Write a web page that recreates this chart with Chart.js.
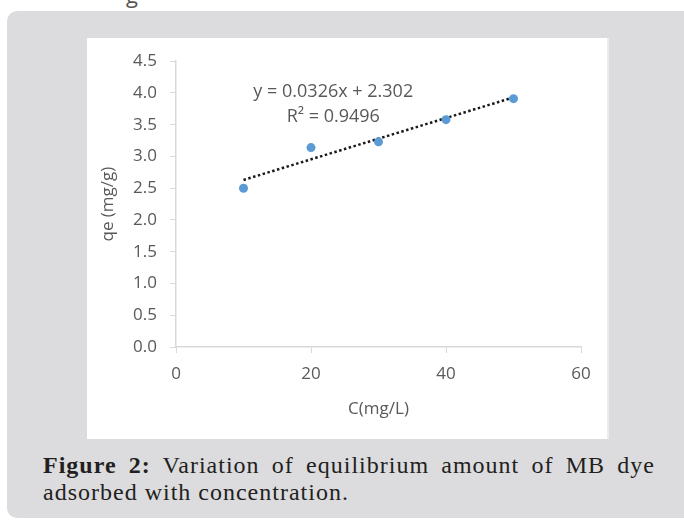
<!DOCTYPE html>
<html>
<head>
<meta charset="utf-8">
<script src="https://cdn.jsdelivr.net/npm/chart.js@4.4.1/dist/chart.umd.min.js"></script>
<style>
  body { margin: 0; background: #fff; width: 684px; height: 521px; overflow: hidden; position: relative; }
  .topline { position: absolute; left: 126px; top: -21px; font: 22px "Open Sans", sans-serif; color: #555; }
  .box { position: absolute; left: 7px; top: 11px; width: 690px; height: 507px; background: #dcdcde; border-radius: 10px; }
  .chart-wrap { position: absolute; left: 87px; top: 38px; width: 520px; height: 401px; background: #fff; border-right: 2px solid #ececec; }
  .caption { position: absolute; left: 43px; top: 452px; width: 612px; font: 24px "Liberation Serif", serif; letter-spacing: 1px; color: #231f20; line-height: 27px; }
  .caption .l1 { text-align: justify; text-align-last: justify; }
</style>
</head>
<body>
<div class="topline">g</div>
<div class="box"></div>
<div class="chart-wrap"><canvas id="chart" width="520" height="401"></canvas></div>
<div class="caption">
  <div class="l1"><b>Figure 2:</b> Variation of equilibrium amount of MB dye</div>
  <div>adsorbed with concentration.</div>
</div>
<script>
const concentration = [10, 20, 30, 40, 50];
const qe = [2.5, 3.14, 3.23, 3.58, 3.91];
const trendX = [10, 50];
const trendY = [2.63, 3.93];
const equationText = 'y = 0.0326x + 2.302';
const r2Text = 'R\u00B2 = 0.9496';

const grey = '#595959';
const axisLine = '#d9d9d9';

// trendline equation label
const equationLabel = {
  id: 'equationLabel',
  afterDatasetsDraw(chart) {
    const x = chart.scales.x, y = chart.scales.y;
    const ctx = chart.ctx;
    ctx.save();
    ctx.fillStyle = grey;
    ctx.font = '18px "Open Sans", sans-serif';
    ctx.textAlign = 'center';
    ctx.textBaseline = 'middle';
    ctx.fillText(equationText, x.getPixelForValue(23.3), y.getPixelForValue(4.02));
    ctx.fillText(r2Text, x.getPixelForValue(23.3), y.getPixelForValue(3.63));
    ctx.restore();
  }
};

new Chart(document.getElementById('chart'), {
  type: 'scatter',
  data: {
    datasets: [{
      label: 'qe',
      data: concentration.map((c, i) => ({ x: c, y: qe[i] })),
      backgroundColor: '#5b9bd5',
      borderWidth: 0,
      pointRadius: 4.5
    }, {
      label: 'Linear',
      type: 'line',
      data: trendX.map((c, i) => ({ x: c, y: trendY[i] })),
      borderColor: '#1a1a1a',
      borderWidth: 2.5,
      borderDash: [2.5, 2.5],
      pointRadius: 0,
      fill: false
    }]
  },
  options: {
    responsive: false,
    animation: false,
    layout: { padding: { left: 0, top: 20, right: 26, bottom: 0 } },
    plugins: { legend: { display: false }, tooltip: { enabled: false } },
    scales: {
      x: {
        type: 'linear', min: 0, max: 60,
        ticks: { stepSize: 20, color: grey, font: { family: 'Open Sans', size: 17 }, padding: 11 },
        grid: { drawOnChartArea: false, color: axisLine, tickLength: 6 },
        border: { color: axisLine, width: 1.5 },
        title: { display: true, text: 'C(mg/L)', color: grey, font: { family: 'Open Sans', size: 17 }, padding: { bottom: 20 } },
        afterFit(scale) { scale.height = 92; }
      },
      y: {
        min: 0, max: 4.5,
        ticks: { stepSize: 0.5, color: grey, font: { family: 'Open Sans', size: 17 }, padding: 13,
          callback: v => v.toFixed(1) },
        grid: { drawOnChartArea: false, color: axisLine, tickLength: 6 },
        border: { color: axisLine, width: 1.5 },
        title: { display: true, text: 'qe (mg/g)', color: grey, font: { family: 'Open Sans', size: 17 }, padding: { top: 11 } },
        afterFit(scale) { scale.width = 89; }
      }
    }
  },
  plugins: [equationLabel]
});
</script>
</body>
</html>
